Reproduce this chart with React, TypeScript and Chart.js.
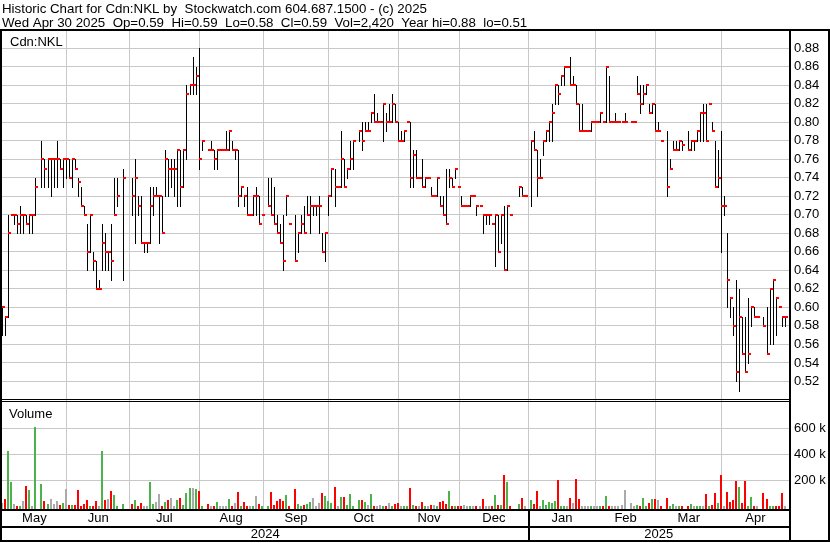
import React, { useEffect, useRef } from 'react';
import { Chart, registerables } from 'chart.js';

Chart.register(...registerables);

// ---------- texts ----------
const TITLE = 'Historic Chart for Cdn:NKL by  Stockwatch.com 604.687.1500 - (c) 2025';
const SUBTITLE = 'Wed Apr 30 2025  Op=0.59  Hi=0.59  Lo=0.58  Cl=0.59  Vol=2,420  Year hi=0.88  lo=0.51';
const SYMBOL = 'Cdn:NKL';
const VOLUME_LABEL = 'Volume';
const MONTHS = ['May', 'Jun', 'Jul', 'Aug', 'Sep', 'Oct', 'Nov', 'Dec', 'Jan', 'Feb', 'Mar', 'Apr'];
const YEARS = ['2024', '2025'];
const PRICE_TICKS = [0.52, 0.54, 0.56, 0.58, 0.6, 0.62, 0.64, 0.66, 0.68, 0.7, 0.72, 0.74, 0.76, 0.78, 0.8, 0.82, 0.84, 0.86, 0.88];
const VOLUME_TICKS = [200, 400, 600]; // thousands of shares

// ---------- daily data, one slot per weekday from Wed May 1 2024 (null = no trade / holiday) ----------
const HIGH = [
  null, .60, .59, .70, .70, .70, .70, .71, .70, .70,
  .70, .70, .74, null, .78, .76, .76, .76, .76, .78,
  .76, .76, .76, .76, .76, .76, .74, .73, .71, .69,
  .70, .66, .65, .63, .69, .68, .66, .69, .74, .74,
  null, .75, null, null, .74, .76, .72, .72, .67, .67,
  .73, .73, .73, .72, .72, .77, .76, .76, .76, .77,
  .77, .77, .84, .84, .87, .86, .88, .78, null, .77,
  .78, .77, .77, .77, .77, .79, .79, .78, .77, .77,
  .73, .72, .73, .70, .72, .73, .72, .70, null, .74,
  .74, .73, .70, .69, .70, .72, .69, null, .70, .68,
  .70, .71, .72, .72, .71, .71, .72, .68, .68, .72,
  .75, .75, .73, .79, .76, .75, .78, .78, null, .79,
  .80, .80, .80, .81, .83, .81, .80, .82, .81, .82,
  .83, .82, .80, .79, .79, .80, .80, .77, .77, .74,
  .76, .74, .74, .73, .72, .74, .72, .72, .75, .75,
  .74, .75, .73, .72, .71, .71, .72, .72, .71, .71,
  .70, .70, .70, .69, .70, .70, .70, .71, .71, .70,
  null, null, .73, .73, .72, null, .78, .79, .77, .76,
  .78, .79, .80, .82, .84, .84, .85, .86, .86, .87,
  .85, .84, .82, .82, .79, .79, .80, .80, .80, .81,
  .80, .86, .85, .80, .81, .80, .80, .81, null, .80,
  .80, .85, .84, .84, .84, .82, .82, .82, .80, .78,
  null, .79, .76, .78, .78, .78, .78, null, .79, .78,
  .78, .79, .81, .82, .82, .82, .80, .78, .77, .79,
  .72, .68, .61, .60, .63, .62, .59, .59, .61, .60,
  .60, .59, null, .59, .60, .62, .63, .61, .60, .59, .59,
];

const LOW = [
  null, .57, .57, .59, .70, .69, .68, .68, .68, .69,
  .68, .68, .70, null, .73, .73, .73, .72, .73, .73,
  .75, .73, .74, .74, .73, .75, .72, .71, .70, .64,
  .66, .64, .62, .62, .64, .64, .64, .63, .70, .71,
  null, .63, null, null, .70, .67, .70, .67, .66, .66,
  .67, .70, .72, .67, .68, .72, .72, .73, .72, .71,
  .71, .73, .76, .83, .83, .83, .75, .77, null, .77,
  .77, .75, .75, .77, .77, .77, .77, .77, .76, .71,
  .72, .71, .70, .70, .70, .70, .69, .70, null, .71,
  .70, .69, .68, .67, .64, .70, .69, null, .65, .66,
  .68, .68, .70, .68, .70, .70, .68, .66, .65, .70,
  .72, .71, .73, .73, .73, .74, .75, .75, null, .78,
  .77, .79, .79, .80, .80, .80, .80, .78, .79, .80,
  .80, .80, .78, .78, .78, .80, .73, .73, .74, .74,
  .73, .73, .74, .72, .72, .72, .71, .70, .69, .73,
  .73, .74, .73, .71, .71, .71, .71, .72, .70, .71,
  .68, .69, .69, .69, .645, .66, .67, .64, .64, .70,
  null, null, .72, .72, .72, null, .71, .77, .72, .74,
  .765, .78, .78, .78, .82, .82, .84, .84, .86, .84,
  .84, .82, .79, .79, .79, .79, .79, .80, .80, .80,
  .80, .80, .80, .80, .80, .80, .80, .80, null, .80,
  .80, .83, .81, .82, .83, .81, .81, .79, .79, .78,
  null, .72, .75, .77, .77, .77, .77, null, .77, .77,
  .77, .78, .78, .78, .78, .82, .79, .73, .73, .66,
  .70, .60, .59, .57, .52, .51, .55, .53, .54, .58,
  .59, .59, null, .58, .55, .56, .56, .57, .60, .58, .58,
];

const CLOSE = [
  null, .60, .59, .68, .70, .70, .69, .70, .70, .69,
  .70, .70, .73, null, .76, .75, .76, .76, .76, .76,
  .75, .76, .76, .74, .76, .75, .735, .71, .70, .66,
  .70, .65, .62, .62, .67, .66, .66, .65, .70, .72,
  null, .74, null, null, .72, .74, .71, .67, .67, .67,
  .71, .72, .72, .72, .68, .76, .75, .75, .75, .77,
  .73, .77, .83, .84, .84, .85, .76, .78, null, .77,
  .77, .76, .77, .77, .77, .77, .79, .77, .77, .72,
  .73, .72, .70, .70, .72, .72, .69, .70, null, .71,
  .70, .69, .68, .67, .65, .72, .69, null, .65, .68,
  .69, .68, .70, .71, .71, .71, .71, .66, .68, .72,
  .75, .73, .73, .76, .73, .75, .76, .78, null, .79,
  .78, .79, .79, .81, .80, .80, .80, .82, .80, .80,
  .82, .80, .78, .78, .79, .80, .74, .765, .74, .74,
  .73, .74, .74, .72, .72, .74, .71, .70, .69, .74,
  .73, .75, .73, .71, .71, .71, .72, .72, .71, .71,
  .70, .70, .70, .69, .70, .66, .70, .64, .71, .70,
  null, null, .73, .72, .72, null, .78, .77, .74, .74,
  .78, .79, .80, .81, .84, .83, .85, .86, .86, .84,
  .84, .82, .79, .79, .79, .79, .80, .80, .80, .81,
  .80, .86, .80, .80, .80, .80, .80, .80, null, .80,
  .80, .83, .82, .83, .84, .81, .82, .79, .79, .78,
  null, .73, .75, .77, .77, .78, .775, null, .77, .78,
  .78, .79, .81, .81, .78, .82, .79, .73, .74, .71,
  .71, .63, .61, .58, .53, .59, .55, .53, .55, .60,
  .59, .59, null, .58, .55, .62, .63, .61, .60, .59, .59,
];

// thousands of shares
const VOLUME = [
  null, 22, 56, 424, 185, 17, 3, 3, 40, 159,
  125, 5, 610, null, 171, 40, 20, 56, 17, 40,
  10, 27, 133, 10, 10, 10, 125, 3, 17, 48,
  5, 5, 40, 3, 424, 48, 56, 117, 87, 1,
  null, 17, null, null, 17, 48, 1, 25, 5, 1,
  185, 17, 33, 94, 3, 33, 48, 63, 3, 48,
  63, 10, 102, 140, 140, 133, 117, 1, null, 17,
  3, 1, 33, 3, 3, 5, 56, 3, 25, 110,
  1, 33, 3, 3, 5, 79, 17, 5, null, 3,
  110, 9, 40, 56, 40, 87, 1, null, 133, 17,
  2, 9, 17, 33, 63, 2, 25, 102, 79, 40,
  25, 148, 1, 71, 71, 9, 94, 2, null, 48,
  48, 33, 9, 94, 2, 2, 9, 2, 5, 25,
  5, 17, 25, 2, 1, 1, 140, 9, 5, 1,
  33, 1, 5, 9, 9, 1, 33, 40, 17, 117,
  1, 5, 2, 5, 9, 2, 2, 1, 1, 2,
  56, 3, 1, 3, 87, 9, 9, 240, 187, 3,
  null, null, 17, 63, 3, null, 48, 17, 117, 5,
  48, 9, 35, 28, 40, 202, 3, 3, 1, 63,
  25, 210, 56, 1, 1, 5, 5, 5, 1, 1,
  3, 79, 1, 1, 1, 1, 10, 125, null, 25,
  1, 10, 5, 63, 1, 25, 56, 56, 48, 1,
  null, 63, 1, 17, 1, 5, 1, null, 5, 17,
  5, 1, 5, 1, 94, 1, 10, 102, 25, 240,
  1, 110, 33, 48, 194, 148, 25, 194, 3, 71,
  1, 1, null, 102, 56, 5, 1, 3, 5, 102, 2.42,
];

// ---------- styling ----------
const W = 830;
const H = 543;
const FONT = "'Liberation Sans', Arial, Helvetica, sans-serif";
const GRID = '#c8c8c8';
const RED = '#ff0000';
const GREEN = '#4cb34c';
const GRAY = '#aaaaaa';
const X_MIN = 0.768;
const X_MAX = 261.28;
const PRICE_MIN = 0.5;
const PRICE_MAX = 0.8985;
const VOL_MIN = -20.8;
const VOL_MAX = 819.3;

function weekdaySlots(n: number): Date[] {
  const out: Date[] = [];
  const d = new Date(2024, 4, 1);
  while (out.length < n) {
    const wd = d.getDay();
    if (wd !== 0 && wd !== 6) out.push(new Date(d));
    d.setDate(d.getDate() + 1);
  }
  return out;
}

const framePlugin = {
  id: 'stockwatchFrame',
  afterDatasetsUpdate(chart: any) {
    chart.data.datasets.forEach((ds: any, di: number) => {
      const meta = chart.getDatasetMeta(di);
      for (const el of meta.data as any[]) {
        const col = Math.floor(el.x);
        if (ds.snap === 'tick') {
          const row = Math.round(el.y);
          el.x = col + 1.5;
          el.width = 3;
          el.y = row - 1;
          el.base = row + 1;
        } else if (ds.snap === 'range') {
          el.x = col + 0.5;
          el.width = 1;
          el.y = Math.round(el.y);
          el.base = Math.round(el.base) + 1;
        } else if (ds.snap === 'vol') {
          el.x = col;
          el.width = 2;
          el.y = Math.round(el.y);
          el.base = Math.round(el.base);
        }
      }
    });
  },
  afterDraw(chart: any) {
    const ctx = chart.ctx;
    const xs = chart.scales.x;
    const yv = chart.scales.yv;
    const area = chart.chartArea;
    const r = Math.round(area.right);
    const b = Math.round(area.bottom);
    const panelSplit = Math.round(yv.top);
    const jan = Math.floor(xs.getPixelForValue(chart.options.plugins.stockwatchFrame.yearBoundary));
    ctx.save();
    ctx.fillStyle = '#000';
    ctx.fillRect(0, 29, W, 2);
    ctx.fillRect(0, 29, 2, H - 30);
    ctx.fillRect(r, 29, 2, H - 30);
    ctx.fillRect(W - 2, 29, 2, H - 30);
    ctx.fillRect(0, panelSplit - 1, r, 1);
    ctx.fillRect(0, panelSplit + 1, r, 1);
    ctx.fillRect(0, b, r, 2);
    ctx.fillRect(0, b + 17, r, 2);
    ctx.fillRect(0, H - 3, W, 2);
    ctx.fillRect(jan, b, 2, H - b - 2);
    ctx.font = `13px ${FONT}`;
    ctx.textBaseline = 'alphabetic';
    ctx.textAlign = 'left';
    ctx.fillText(SYMBOL, 10, 46);
    ctx.fillText(VOLUME_LABEL, 9, panelSplit + 18);
    ctx.restore();
  },
};

export default function App() {
  const ref = useRef<HTMLCanvasElement>(null);

  useEffect(() => {
    const canvas = ref.current;
    if (!canvas) return;
    const dates = weekdaySlots(CLOSE.length);

    // month boundaries in slot units
    const bounds: number[] = [];
    for (let k = 1; k < dates.length; k++) {
      if (dates[k].getMonth() !== dates[k - 1].getMonth()) {
        bounds.push(dates[k].getDate() === 1 ? k : k - 0.8);
      }
    }
    const edges = [X_MIN, ...bounds, X_MAX];
    const monthCenters = edges.slice(0, -1).map((e, i) => (e + edges[i + 1]) / 2);
    let yearBoundary = X_MIN;
    for (let k = 1; k < dates.length; k++) {
      if (dates[k].getFullYear() !== dates[k - 1].getFullYear()) {
        yearBoundary = dates[k].getDate() === 1 ? k : k - 0.8;
      }
    }
    const yearCenters = [(X_MIN + yearBoundary) / 2, (yearBoundary + X_MAX) / 2];

    const tickData: any[] = [];
    const rangeData: any[] = [];
    const volData: any[] = [];
    const volColors: string[] = [];
    let prev: number | null = null;
    for (let i = 0; i < CLOSE.length; i++) {
      const c = CLOSE[i];
      if (c == null) continue;
      tickData.push({ x: i, y: [c, c] });
      const hi = HIGH[i] as number;
      const lo = LOW[i] as number;
      if (hi > lo) rangeData.push({ x: i, y: [lo, hi] });
      const v = VOLUME[i];
      if (v != null) {
        volData.push({ x: i, y: v });
        volColors.push(prev == null || c === prev ? GRAY : c > prev ? GREEN : RED);
      }
      prev = c;
    }

    const labelFont = { family: FONT, size: 13 };
    const xBase = {
      type: 'linear', position: 'bottom', min: X_MIN, max: X_MAX,
      offset: false, bounds: 'data',
      border: { display: false },
    };

    const chart = new Chart(canvas, {
      type: 'bar',
      data: {
        datasets: [
          {
            label: 'Close', data: tickData, yAxisID: 'y', xAxisID: 'x',
            backgroundColor: RED, grouped: false, inflateAmount: 0, borderWidth: 0, snap: 'tick',
          } as any,
          {
            label: 'High-Low', data: rangeData, yAxisID: 'y', xAxisID: 'x',
            backgroundColor: '#000', grouped: false, inflateAmount: 0, borderWidth: 0, snap: 'range',
          } as any,
          {
            label: 'Volume', data: volData, yAxisID: 'yv', xAxisID: 'x',
            backgroundColor: volColors, grouped: false, inflateAmount: 0, borderWidth: 0,
            base: VOL_MIN, snap: 'vol',
          } as any,
        ],
      },
      options: {
        animation: false,
        responsive: false,
        devicePixelRatio: 1,
        events: [],
        layout: { padding: { left: 2, right: 0, top: 0, bottom: 0 } },
        plugins: {
          legend: { display: false },
          tooltip: { enabled: false },
          title: {
            display: true,
            text: [TITLE, SUBTITLE],
            align: 'start',
            color: '#000',
            font: { family: FONT, size: 13.3, weight: 'normal', lineHeight: 1.075 },
            padding: { top: 2, bottom: 0.4 },
          },
          stockwatchFrame: { yearBoundary },
        } as any,
        scales: {
          x: {
            ...xBase, weight: 0,
            grid: { color: GRID, lineWidth: 1, drawTicks: false, offset: false },
            ticks: { display: false },
            afterBuildTicks: (s: any) => { s.ticks = bounds.map((v) => ({ value: v })); },
            afterFit: (s: any) => { s.height = 0; },
          },
          xMonth: {
            ...xBase, weight: 1,
            grid: { display: false, drawTicks: false, offset: false },
            ticks: {
              autoSkip: false, maxRotation: 0, minRotation: 0, padding: 2, color: '#000', font: labelFont,
              callback: (_v: any, i: number) => MONTHS[i],
            },
            afterBuildTicks: (s: any) => { s.ticks = monthCenters.map((v) => ({ value: v })); },
            afterFit: (s: any) => { s.height = 17; },
          },
          xYear: {
            ...xBase, weight: 2,
            grid: { display: false, drawTicks: false, offset: false },
            ticks: {
              autoSkip: false, maxRotation: 0, minRotation: 0, padding: 1, color: '#000', font: labelFont,
              callback: (_v: any, i: number) => YEARS[i],
            },
            afterBuildTicks: (s: any) => { s.ticks = yearCenters.map((v) => ({ value: v })); },
            afterFit: (s: any) => { s.height = 17; },
          },
          y: {
            type: 'linear', position: 'right', stack: 'panels', stackWeight: 369,
            min: PRICE_MIN, max: PRICE_MAX, bounds: 'data', offset: false,
            grid: { color: GRID, lineWidth: 1, drawTicks: false },
            border: { display: false },
            ticks: {
              autoSkip: false, padding: 5, color: '#000', font: labelFont,
              callback: (v: any) => Number(v).toFixed(2),
            },
            afterBuildTicks: (s: any) => { s.ticks = PRICE_TICKS.map((v) => ({ value: v })); },
            afterFit: (s: any) => { s.width = 41; },
          },
          yv: {
            type: 'linear', position: 'right', stack: 'panels', stackWeight: 109,
            min: VOL_MIN, max: VOL_MAX, bounds: 'data', offset: false,
            grid: { color: GRID, lineWidth: 1, drawTicks: false },
            border: { display: false },
            ticks: {
              autoSkip: false, padding: 5, color: '#000', font: labelFont,
              callback: (v: any) => `${v} k`,
            },
            afterBuildTicks: (s: any) => { s.ticks = VOLUME_TICKS.map((v) => ({ value: v })); },
            afterFit: (s: any) => { s.width = 41; },
          },
        } as any,
      } as any,
      plugins: [framePlugin],
    });

    return () => chart.destroy();
  }, []);

  return (
    <div style={{ position: 'absolute', left: 0, top: 0, width: W, height: H, background: '#fff' }}>
      <canvas ref={ref} width={W} height={H} style={{ display: 'block', width: W, height: H }} />
    </div>
  );
}
